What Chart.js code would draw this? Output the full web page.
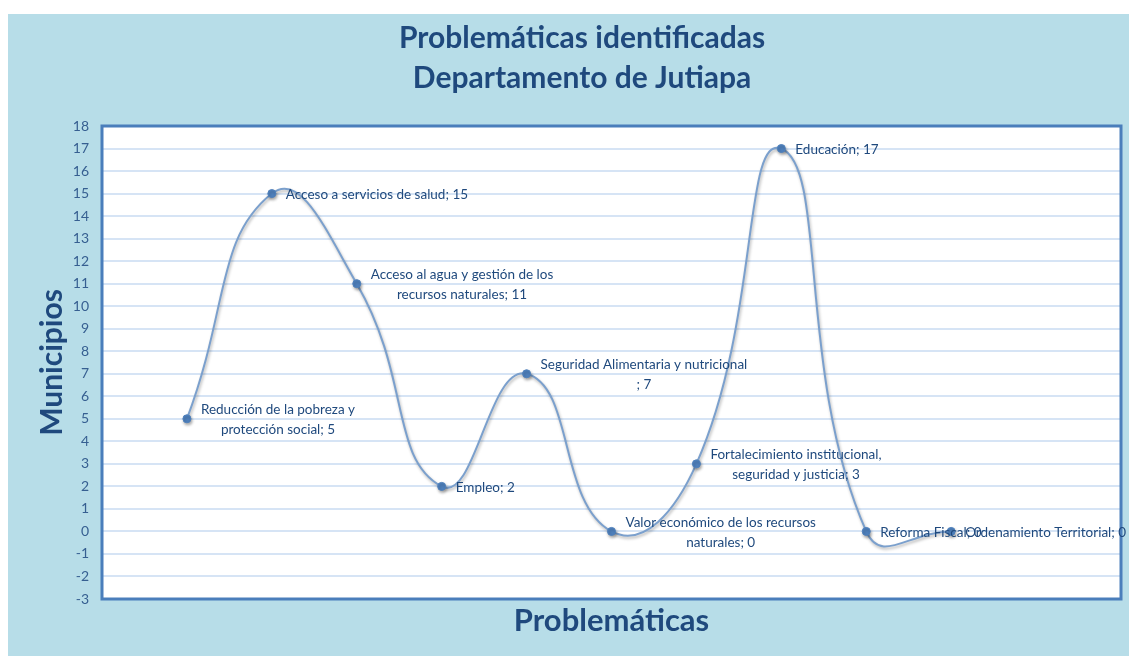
<!DOCTYPE html>
<html>
<head>
<meta charset="utf-8">
<script src="https://cdn.jsdelivr.net/npm/chart.js@4"></script>
<style>
  body { margin: 0; background: #fff; }
  #marco { position: absolute; left: 8px; top: 14px; width: 1121px; height: 642px; background: #b7dde8; }
</style>
</head>
<body>
<div id="marco"><canvas id="myChart" width="1121" height="642"></canvas></div>
<script>
const categorias = [
    'Reducción de la pobreza y protección social',
    'Acceso a servicios de salud',
    'Acceso al agua y gestión de los recursos naturales',
    'Empleo',
    'Seguridad Alimentaria y nutricional',
    'Valor económico de los recursos naturales',
    'Fortalecimiento institucional, seguridad y justicia',
    'Educación',
    'Reforma Fiscal',
    'Ordenamiento Territorial'
]
const municipios = [5, 15, 11, 2, 7, 0, 3, 17, 0, 0]
const ticksY = [-3, 18]

const tituloGrafica = ['Problemáticas identificadas', 'Departamento de Jutiapa']

const azulOscuro = '#1f497d'
const fuente = 'Lato, "Open Sans", sans-serif'

// la escala lleva un hueco antes y dos despues, como en el original
const etiquetasX = ['', ...categorias, '', '']
const datosX = [null, ...municipios, null, null]

// parte el texto de la etiqueta como lo hace excel
const partirTexto = (ctx, nombre, valor, maxAncho) => {
    let palabras = nombre.split(' ')
    let lineas = []
    let actual = ''
    palabras.forEach(p => {
        let prueba = actual ? actual + ' ' + p : p
        if (actual && ctx.measureText(prueba).width > maxAncho) {
            lineas.push(actual)
            actual = p
        } else {
            actual = prueba
        }
    })
    let fin = '; ' + valor
    if (ctx.measureText(actual + fin).width > maxAncho) {
        lineas.push(actual)
        lineas.push(fin)
    } else {
        lineas.push(actual + fin)
    }
    return lineas
}

const fondoPlot = {
    id: 'fondoPlot',
    beforeDraw(chart) {
        const { ctx, chartArea: a } = chart
        ctx.save()
        ctx.fillStyle = '#ffffff'
        ctx.fillRect(a.left, a.top, a.right - a.left, a.bottom - a.top)
        ctx.restore()
    },
    beforeDatasetsDraw(chart) {
        const ctx = chart.ctx
        ctx.save()
        ctx.shadowColor = 'rgba(0,0,0,0.3)'
        ctx.shadowBlur = 3
        ctx.shadowOffsetX = 1
        ctx.shadowOffsetY = 2
    },
    afterDatasetsDraw(chart) {
        chart.ctx.restore()
    },
    afterDraw(chart) {
        const { ctx, chartArea: a } = chart
        ctx.save()
        ctx.strokeStyle = '#4a7ebb'
        ctx.lineWidth = 3
        ctx.strokeRect(a.left, a.top, a.right - a.left, a.bottom - a.top)

        // titulo
        ctx.fillStyle = azulOscuro
        ctx.font = 'bold 30px ' + fuente
        ctx.textAlign = 'center'
        ctx.textBaseline = 'middle'
        tituloGrafica.forEach((t, i) => ctx.fillText(t, 574, 24 + i * 40))

        // etiquetas de datos
        const meta = chart.getDatasetMeta(0)
        ctx.font = '13.5px ' + fuente
        ctx.fillStyle = azulOscuro
        categorias.forEach((nombre, i) => {
            const pt = meta.data[i + 1]
            const lineas = partirTexto(ctx, nombre, municipios[i], 208)
            const ancho = Math.max(...lineas.map(l => ctx.measureText(l).width))
            const cx = pt.x + 14 + ancho / 2
            const y0 = pt.y - (lineas.length - 1) * 10 + 1
            lineas.forEach((l, j) => ctx.fillText(l, cx, y0 + j * 20))
        })
        ctx.restore()
    }
}

const ctx = document.getElementById('myChart')

new Chart(ctx, {
    type: 'line',
    data: {
        labels: etiquetasX,
        datasets: [{
            label: 'Municipios',
            data: datosX,
            borderColor: '#7ba0cd',
            borderWidth: 2,
            tension: 0.5,
            pointRadius: 4,
            pointBackgroundColor: '#4f81bd',
            pointBorderColor: '#4f81bd',
            pointBorderWidth: 1
        }]
    },
    options: {
        responsive: false,
        animation: false,
        layout: { padding: { top: 112, right: 8, left: 0, bottom: 0 } },
        plugins: {
            legend: { display: false },
            tooltip: { enabled: false }
        },
        scales: {
            x: {
                offset: false,
                grid: { display: false },
                border: { display: false },
                ticks: { display: false },
                title: {
                    display: true,
                    text: 'Problemáticas',
                    color: azulOscuro,
                    font: { family: fuente, size: 31, weight: 'bold' },
                    padding: { top: 0, bottom: 16 }
                },
                afterFit: (scale) => { scale.height = 57 }
            },
            y: {
                min: ticksY[0],
                max: ticksY[1],
                grid: { color: '#d6e4f5', lineWidth: 2, drawTicks: false },
                border: { display: false },
                ticks: {
                    stepSize: 1,
                    padding: 13,
                    color: '#365f91',
                    font: { family: fuente, size: 14 }
                },
                title: {
                    display: true,
                    text: 'Municipios',
                    color: azulOscuro,
                    font: { family: fuente, size: 30, weight: 'bold' },
                    padding: { top: 26, bottom: 0 }
                },
                afterFit: (scale) => { scale.width = 94 }
            }
        }
    },
    plugins: [fondoPlot]
})
</script>
</body>
</html>
